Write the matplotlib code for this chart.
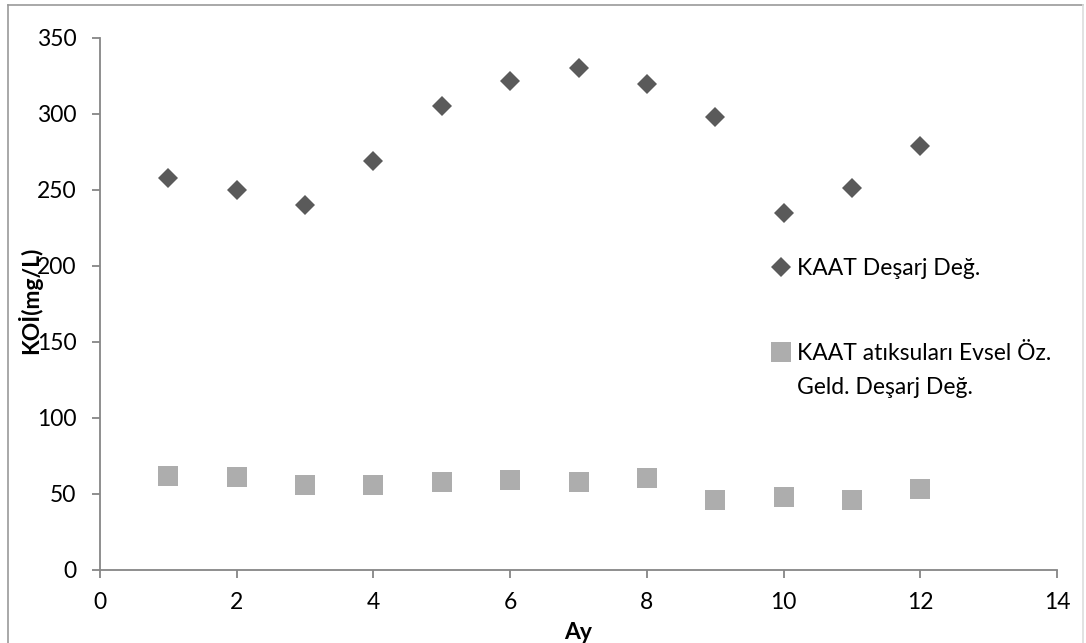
import matplotlib
matplotlib.use('Agg')
from matplotlib import pyplot as plt
from matplotlib.lines import Line2D
from matplotlib.legend_handler import HandlerLine2D

plt.rcParams['font.family'] = ['Lato', 'DejaVu Sans']

# monthly COD values
ay = [1, 2, 3, 4, 5, 6, 7, 8, 9, 10, 11, 12]
kaat_desarj = [258, 250, 240, 269, 305, 322, 330, 320, 298, 235, 251, 279]
kaat_evsel = [62, 61, 56, 56, 58, 59, 58, 60.5, 46, 48, 46, 53]

lbl_desarj = 'KAAT Deşarj Değ.'
lbl_evsel = 'KAAT atıksuları Evsel Öz.\nGeld. Deşarj Değ.'

FS = 16.5


class TopLineHandler(HandlerLine2D):
    # put the marker beside the first line of a two-line label
    def __init__(self, shift, **kw):
        super().__init__(**kw)
        self.shift = shift

    def create_artists(self, legend, orig_handle, xdescent, ydescent, width,
                       height, fontsize, trans):
        arts = super().create_artists(legend, orig_handle, xdescent, ydescent,
                                      width, height, fontsize, trans)
        for a in arts:
            a.set_ydata([y + self.shift for y in a.get_ydata()])
        return arts


W, H = 1086, 643
fig = plt.figure(figsize=(W / 100, H / 100), dpi=100)
ax = fig.add_axes([100 / W, (H - 570) / H, 957 / W, 532 / H])

ax.plot(ay, kaat_desarj, 'D', color='#5a5a5a', markersize=10.5, markeredgewidth=0,
        label=lbl_desarj)
sq, = ax.plot(ay, kaat_evsel, 's', color='#adadad', markersize=15, markeredgewidth=0,
              label=lbl_evsel)

ax.set_xlim(0, 14)
ax.set_ylim(0, 350)
ax.set_xticks(range(0, 15, 2))
ax.set_yticks(range(0, 351, 50))

axis_gray = '#868686'
for s in ['top', 'right']:
    ax.spines[s].set_visible(False)
for s in ['left', 'bottom']:
    ax.spines[s].set_color(axis_gray)
    ax.spines[s].set_linewidth(1.3)
ax.tick_params(axis='both', direction='out', length=6, width=1.3, color=axis_gray,
               labelsize=FS)
ax.tick_params(axis='y', pad=11)
ax.tick_params(axis='x', pad=10)

ax.set_xlabel('Ay', fontsize=FS, fontweight='bold', labelpad=6)
ax.set_ylabel('KOİ(mg/L)', fontsize=FS, fontweight='bold')
ax.yaxis.set_label_coords(-0.06, 0.507)

leg = ax.legend(loc='upper left', bbox_to_anchor=(772 / W, 1 - 258 / H),
                bbox_transform=fig.transFigure, frameon=False, fontsize=FS,
                handlelength=0.8, handletextpad=0.3, labelspacing=2.8,
                borderpad=0, borderaxespad=0,
                handler_map={sq: TopLineHandler(shift=13.5)})
leg.get_texts()[1].set_linespacing(1.75)

# thin frame around the whole chart area
fig.add_artist(Line2D([8 / W, 8 / W], [0, 1 - 5 / H], transform=fig.transFigure,
                      color='#999999', linewidth=1.2))
fig.add_artist(Line2D([8 / W, 1083 / W], [1 - 5 / H, 1 - 5 / H],
                      transform=fig.transFigure, color='#999999', linewidth=1.2))
fig.add_artist(Line2D([1083 / W, 1083 / W], [0, 1 - 5 / H], transform=fig.transFigure,
                      color='#dddddd', linewidth=1.2))

fig.savefig('out.png', dpi=100)
